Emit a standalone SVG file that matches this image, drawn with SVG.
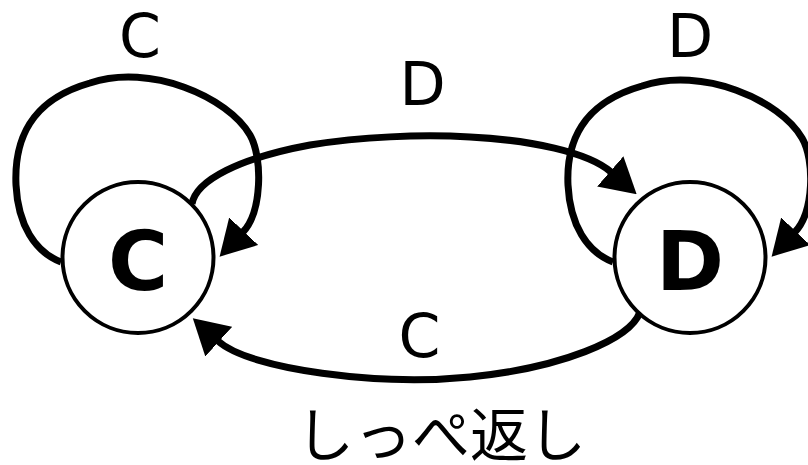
<svg xmlns="http://www.w3.org/2000/svg" width="808" height="465" viewBox="0 0 808 465">
<style>
.node{fill:#fff;stroke:#000;stroke-width:4}
.edge{fill:none;stroke:#000;stroke-width:7}
.lbl{font-family:"DejaVu Sans",sans-serif;font-size:60px;text-anchor:middle;fill:#000}
.nl{font-family:"DejaVu Sans",sans-serif;font-size:82px;font-weight:bold;text-anchor:middle;fill:#000}
.cap{font-family:"Noto Sans CJK JP",sans-serif;font-size:58px;text-anchor:middle;fill:#000}
</style>
<defs>
<marker id="ah" viewBox="0 0 35 40" markerWidth="35" markerHeight="40" refX="1" refY="20" orient="auto" markerUnits="userSpaceOnUse">
<path d="M0,0 L35,20 L0,40 z" fill="#000"/>
</marker>
</defs>
<g id="connectors">
<path class="edge" marker-end="url(#ah)" d="M61 262 C35 252,18 225,16 185 C14 140,30 100,90 83 C150 63,228 97,250 135 C263 158,262 212,243 232"/>
<path class="edge" marker-end="url(#ah)" d="M613 262 C587 252,570 225,568 185 C566 142,582 103,642 86 C702 66,780 100,802 138 C815 160,814 212,795 232"/>
<path class="edge" marker-end="url(#ah)" d="M192 204 C196 180,240 158,310 145 C360 137,420 134,470 137 C530 140,588 152,611 172"/>
<path class="edge" marker-end="url(#ah)" d="M640 312 C630 340,560 368,470 377 C380 386,250 370,218 341"/>
<text class="lbl" x="140" y="57">C</text>
<text class="lbl" x="690" y="57">D</text>
<text class="lbl" x="422.5" y="105">D</text>
<text class="lbl" x="419.5" y="357">C</text>
</g>
<g id="nodeC">
<circle class="node" cx="138" cy="257.5" r="75.5"/>
<text class="nl" x="138" y="290">C</text>
</g>
<g id="nodeD">
<circle class="node" cx="690" cy="257.5" r="75.5"/>
<text class="nl" x="690" y="290">D</text>
</g>
<text class="cap" x="441" y="456">しっぺ返し</text>
</svg>
